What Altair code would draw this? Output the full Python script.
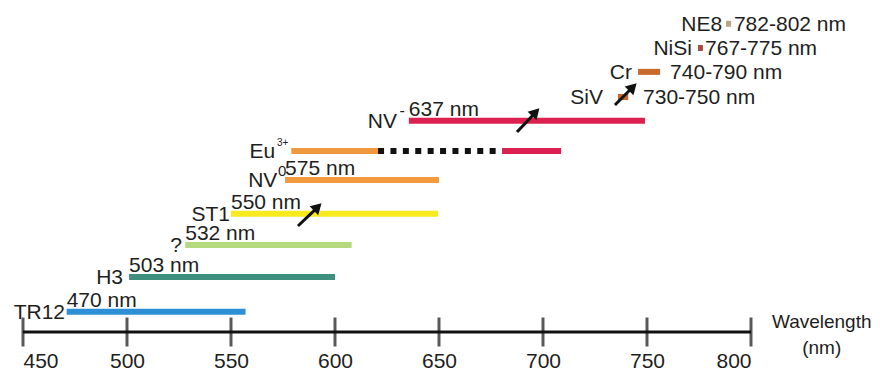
import altair as alt
import pandas as pd

# ---- data ----
names = ["TR12", "H3", "?", "ST1", "NV", "Eu", "NV", "SiV", "Cr", "NiSi", "NE8"]
bar_start = [471, 501, 528, 550, 576, 579, 635.5, 736, 745.7, 774.5, 788]
bar_end = [557, 600, 608, 649.5, 650, 620.7, 749, 741, 756.3, 776.9, 790.4]
levels = [0.65, 1.77, 2.81, 3.81, 4.9, 5.84, 6.81, 7.58, 8.39, 9.16, 9.94]
colors = ["#2d8fd5", "#3f8f7f", "#b5d97e", "#f8ea1e", "#f39a3f", "#f0983e",
          "#dc2150", "#c8692c", "#c8692c", "#a4503e", "#b9a582"]
name_x = [470.2, 498.1, 526.4, 549.5, 572.3, 571.2, 629.8, 728.8, 742.8, 771.6, 786.1]

peak_labels = ["470 nm", "503 nm", "532 nm", "550 nm", "575 nm", "637 nm"]
peak_x = [471, 501, 528, 550, 576, 635.5]
peak_level = [0.65, 1.77, 2.81, 3.81, 4.9, 6.81]

range_labels = ["730-750 nm", "740-790 nm", "767-775 nm", "782-802 nm"]
range_x = [748.1, 761.1, 777.9, 791.8]
range_level = [7.58, 8.39, 9.16, 9.94]

sup_text = ["0", "3+", "-"]
sup_x = [572.6, 572.1, 631.0]
sup_level = [5.18, 6.08, 7.13]
sup_size = [15, 10, 16]

# Eu3+ continuation: dotted black part and red part
eu_dash = {"x": [620.7], "x2": [677.9], "y": [5.84]}
eu_red = {"x": [680.3], "x2": [708.7], "y": [5.84], "c": ["#dc2150"]}

# arrows: tail and head centre
arrow_x = [687.5, 582.2, 734.6]
arrow_y = [6.45, 3.42, 7.32]
head_x = [696.5, 591.7, 743.2]
head_y = [7.09, 4.03, 7.90]
head_angle = [44, 46, 45]

ticks = [450, 500, 550, 600, 650, 700, 750, 800]
axis_title = ["Wavelength", "(nm)"]
axis_title_x = [834, 834]
axis_title_level = [0.32, -0.5]

FONT = "Liberation Sans"
TXT = "#1e1e1e"
FS = 21

xs = alt.Scale(domain=[450, 800], nice=False, zero=False)
ys = alt.Scale(domain=[0, 10.45], nice=False, zero=False)
xaxis = alt.Axis(values=ticks, format="d", domain=False, ticks=False, grid=False,
                 labelFontSize=FS, labelFont=FONT, labelColor=TXT, labelPadding=18,
                 title=None)


def X(f):
    return alt.X(f, type="quantitative", scale=xs, axis=xaxis)


def Y(f):
    return alt.Y(f, type="quantitative", scale=ys, axis=None)


bars_df = pd.DataFrame({"name": names, "x": bar_start, "x2": bar_end,
                        "y": levels, "c": colors, "nx": name_x})

bars = alt.Chart(bars_df).mark_rule(strokeWidth=6, strokeCap="butt").encode(
    x=X("x"), x2="x2", y=Y("y"), color=alt.Color("c:N", scale=None))

eu_red_layer = alt.Chart(pd.DataFrame(eu_red)).mark_rule(strokeWidth=6, strokeCap="butt").encode(
    x=X("x"), x2="x2", y=Y("y"), color=alt.Color("c:N", scale=None))

eu_dash_layer = alt.Chart(pd.DataFrame(eu_dash)).mark_rule(
    strokeWidth=6, strokeCap="butt", strokeDash=[6, 6.4], color="#111").encode(
    x=X("x"), x2="x2", y=Y("y"))

name_layer = alt.Chart(bars_df).mark_text(
    align="right", baseline="middle", fontSize=FS, font=FONT, color=TXT, dy=1).encode(
    x=X("nx"), y=Y("y"), text="name:N")

peak_layer = alt.Chart(pd.DataFrame({"t": peak_labels, "x": peak_x, "y": peak_level})).mark_text(
    align="left", baseline="alphabetic", fontSize=FS, font=FONT, color=TXT, dy=-5).encode(
    x=X("x"), y=Y("y"), text="t:N")

range_layer = alt.Chart(pd.DataFrame({"t": range_labels, "x": range_x, "y": range_level})).mark_text(
    align="left", baseline="middle", fontSize=FS, font=FONT, color=TXT, dy=1).encode(
    x=X("x"), y=Y("y"), text="t:N")

sup_layer = alt.Chart(pd.DataFrame({"t": sup_text, "x": sup_x, "y": sup_level, "s": sup_size})).mark_text(
    align="left", baseline="middle", font=FONT, color=TXT).encode(
    x=X("x"), y=Y("y"), text="t:N", size=alt.Size("s:Q", scale=None, legend=None))

arrow_df = pd.DataFrame({"x": arrow_x, "y": arrow_y, "x2": head_x, "y2": head_y, "a": head_angle})
arrow_lines = alt.Chart(arrow_df).mark_rule(strokeWidth=3, color="#111").encode(
    x=X("x"), y=Y("y"), x2="x2", y2="y2")
arrow_heads = alt.Chart(arrow_df).mark_point(
    shape="triangle-up", filled=True, size=150, color="#111", opacity=1).encode(
    x=X("x2"), y=Y("y2"), angle=alt.Angle("a:Q", scale=None))

axis_df = pd.DataFrame({"x": [450], "x2": [800], "y": [0]})
axis_line = alt.Chart(axis_df).mark_rule(strokeWidth=3, color="#111").encode(
    x=X("x"), x2="x2", y=Y("y"))
tick_layer = alt.Chart(pd.DataFrame({"x": ticks, "y": [0] * len(ticks)})).mark_tick(
    orient="vertical", size=29, thickness=3, color="#111").encode(x=X("x"), y=Y("y"))

title_layer = alt.Chart(pd.DataFrame({"t": axis_title, "x": axis_title_x, "y": axis_title_level})).mark_text(
    align="center", baseline="middle", fontSize=19, font=FONT, color=TXT).encode(
    x=X("x"), y=Y("y"), text="t:N")

chart = alt.layer(
    axis_line, tick_layer, bars, eu_red_layer, eu_dash_layer,
    name_layer, peak_layer, range_layer, sup_layer,
    arrow_lines, arrow_heads, title_layer
).properties(
    width=728, height=324,
    autosize=alt.AutoSizeParams(type="none"),
    padding={"left": 15, "top": 0, "right": 121, "bottom": 38},
).configure_view(stroke=None)

chart.save("out.html", embed_options={"renderer": "svg", "actions": False})
